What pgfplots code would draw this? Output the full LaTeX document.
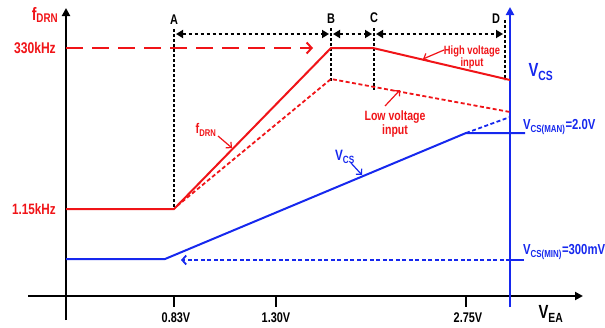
\documentclass[border=0pt]{standalone}
\usepackage{fontspec}
\setmainfont{Liberation Sans}[FakeStretch=0.78]
\usepackage{pgfplots}
\pgfplotsset{compat=1.18}
\usetikzlibrary{arrows.meta}
\definecolor{cred}{RGB}{240,20,24}
\definecolor{cblue}{RGB}{22,40,238}
\newcommand{\fs}[1]{\fontsize{#1}{#1}\selectfont\bfseries}
\begin{document}
\begin{tikzpicture}
\begin{axis}[scale only axis, width=605pt, height=327pt,
  xmin=0, xmax=605, ymin=0, ymax=327, y dir=reverse,
  hide axis, clip=false]
\coordinate (bl) at (axis cs:0,327);
\coordinate (tr) at (axis cs:605,0);
% main axes
\addplot[black, line width=2pt, -{Triangle[length=8pt,width=8pt]}] coordinates {(66,320) (66,8)};
\addplot[black, line width=2pt, -{Triangle[length=8pt,width=8pt]}] coordinates {(28,296) (583,296)};
\addplot[black, line width=2pt] coordinates {(174,296) (174,307)};
\addplot[black, line width=2pt] coordinates {(276,296) (276,307)};
\addplot[black, line width=2pt] coordinates {(466,296) (466,307)};
% V_CS axis
\addplot[cblue, line width=2pt, -{Triangle[length=8pt,width=8pt]}] coordinates {(510,307) (510,7)};
% region markers A-D
\addplot[black, line width=2pt, dash pattern=on 3pt off 2pt] coordinates {(174,29) (174,209)};
\addplot[black, line width=2pt, dash pattern=on 3pt off 2pt] coordinates {(331,28) (331,82)};
\addplot[black, line width=2pt, dash pattern=on 3pt off 2pt] coordinates {(374,28) (374,90)};
\addplot[black, line width=2pt, dash pattern=on 3pt off 2pt] coordinates {(505,20) (505,80)};
\addplot[black, line width=1.7pt, dash pattern=on 3.5pt off 2.5pt, {Triangle[length=7pt,width=8pt]}-{Triangle[length=7pt,width=8pt]}] coordinates {(176,34) (329,34)};
\addplot[black, line width=1.7pt, dash pattern=on 3.5pt off 2.5pt, {Triangle[length=7pt,width=8pt]}-{Triangle[length=7pt,width=8pt]}] coordinates {(333,34) (372,34)};
\addplot[black, line width=1.7pt, dash pattern=on 3.5pt off 2.5pt, {Triangle[length=7pt,width=8pt]}-{Triangle[length=7pt,width=8pt]}] coordinates {(376,34) (503,34)};
% f_DRN curves
\addplot[cred, line width=2pt, dash pattern=on 17pt off 9pt, -{Straight Barb[length=5pt,width=11pt]}] coordinates {(66,48) (313,48)};
\addplot[cred, line width=2pt] coordinates {(66,209) (174,209) (331,48) (373,48) (510,80)};
\addplot[cred, line width=1.8pt, dash pattern=on 4pt off 2.5pt] coordinates {(177,206) (331,79) (510,112)};
% V_CS curves
\addplot[cblue, line width=2pt] coordinates {(66,259) (165,259) (466,133) (525,133)};
\addplot[cblue, line width=1.8pt, dash pattern=on 4pt off 2.5pt] coordinates {(466,133) (510,117)};
\addplot[cblue, line width=1.8pt, dash pattern=on 4pt off 2.5pt, -{Straight Barb[length=4pt,width=9pt]}] coordinates {(510,260) (181,260)};
\addplot[cblue, line width=2pt] coordinates {(510,260) (524,260)};
% callout arrows
\addplot[cred, line width=1.2pt, -{Straight Barb[length=4pt,width=8pt]}] coordinates {(444,50) (423,59)};
\addplot[cred, line width=1.2pt, -{Straight Barb[length=4pt,width=8pt]}] coordinates {(385,106) (400,90)};
\addplot[cred, line width=1.2pt, -{Straight Barb[length=4pt,width=8pt]}] coordinates {(218,136) (232,148)};
\addplot[cblue, line width=1.2pt, -{Straight Barb[length=4pt,width=8pt]}] coordinates {(351,163) (362,175)};
% labels
\node[text=cred] at (axis cs:45,15) {\fs{18}f\textsubscript{DRN}};
\node[text=cred, anchor=east, inner sep=1pt] at (axis cs:57,48) {\fs{15.5}330kHz};
\node[text=cred, anchor=east, inner sep=1pt] at (axis cs:57,209) {\fs{15}1.15kHz};
\node at (axis cs:174,20) {\fs{14}A};
\node at (axis cs:331,19) {\fs{14}B};
\node at (axis cs:374,18) {\fs{14}C};
\node at (axis cs:496,19) {\fs{14}D};
\node[text=cred, align=center] at (axis cs:472,57) {\fs{12}High voltage\\[0pt]\fs{12}input};
\node[text=cred, align=center] at (axis cs:395,124) {\fs{13.5}Low voltage\\[1pt]\fs{13.5}input};
\node[text=cred] at (axis cs:206,130) {\fs{14}f\textsubscript{DRN}};
\node[text=cblue] at (axis cs:345,157) {\fs{15}V\textsubscript{CS}};
\node[text=cblue] at (axis cs:541,72) {\fs{19}V\textsubscript{CS}};
\node[text=cblue, anchor=west, inner sep=1pt] at (axis cs:522,127) {\fs{14.5}V\textsubscript{CS(MAN)}=2.0V};
\node[text=cblue, anchor=west, inner sep=1pt] at (axis cs:522,252) {\fs{14.5}V\textsubscript{CS(MIN)}=300mV};
\node at (axis cs:551,314) {\fs{19}V\textsubscript{EA}};
\node at (axis cs:176,318) {\fs{14}0.83V};
\node at (axis cs:276,318) {\fs{14}1.30V};
\node at (axis cs:468,318) {\fs{14}2.75V};
\end{axis}
\pgfresetboundingbox
\path[use as bounding box] (bl) rectangle (tr);
\end{tikzpicture}
\end{document}
